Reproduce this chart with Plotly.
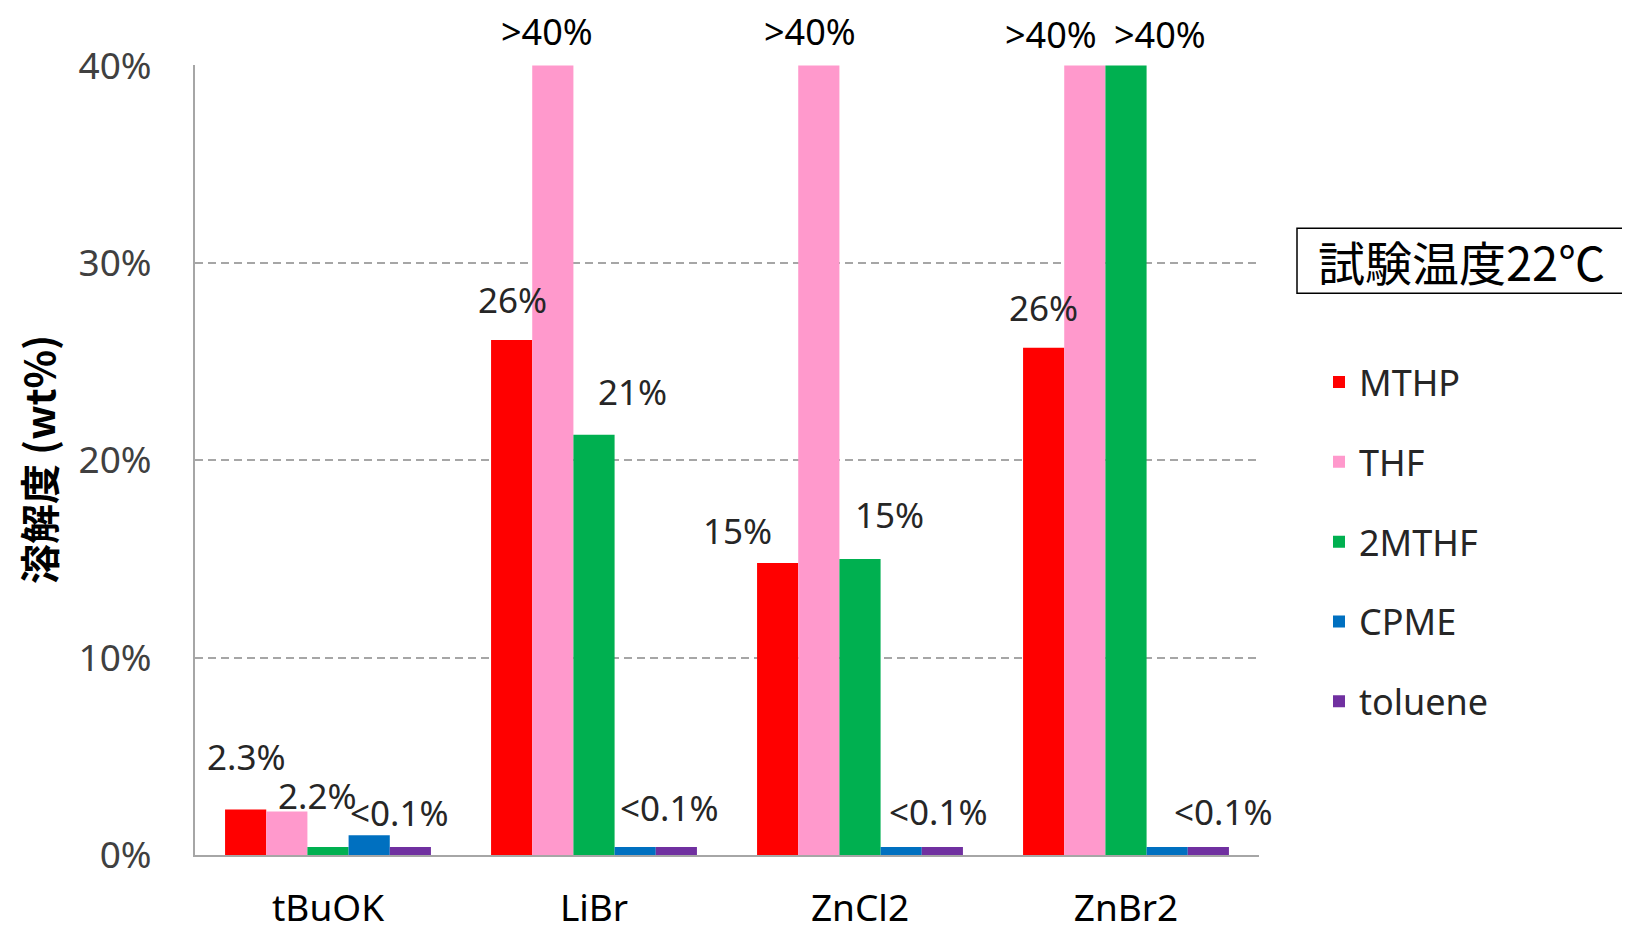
import plotly.graph_objects as go

categories = ["tBuOK", "LiBr", "ZnCl2", "ZnBr2"]
series_names = ["MTHP", "THF", "2MTHF", "CPME", "toluene"]
mthp = [2.3, 26.1, 14.8, 25.7]
thf = [2.2, 40.0, 40.0, 40.0]
mthf2 = [0.4, 21.3, 15.0, 40.0]
cpme = [1.0, 0.4, 0.4, 0.4]
toluene = [0.4, 0.4, 0.4, 0.4]
colors = ["#FF0000", "#FF99CC", "#00B050", "#0070C0", "#7030A0"]

y_tickvals = [0, 10, 20, 30, 40]
y_ticktext = ["0%", "10%", "20%", "30%", "40%"]

# data-label texts and their placement (category index, y value)
label_texts = ["26%", "21%", "15%", "15%", "26%",
               "2.3%", "2.2%", "<0.1%", "<0.1%", "<0.1%", "<0.1%"]
label_x = [0.693, 1.146, 1.541, 2.112, 2.691,
           -0.308, -0.039, 0.270, 1.283, 2.296, 3.367]
label_y = [28.17, 23.49, 16.45, 17.24, 27.75,
           4.99, 3.0, 2.155, 2.42, 2.21, 2.21]

# labels for bars that exceed the axis top
over_texts = [">40%", ">40%", ">40%", ">40%"]
over_x = [0.822, 1.811, 2.718, 3.129]
over_shift = [34, 34, 31, 31]

# page has an 8px body margin; work in target screen pixels
OFF = 8
W, H = 1630 - OFF, 933 - OFF
L, R, T, B = 195 - OFF, 1259 - OFF, 64.5 - OFF, 855.5 - OFF


def px_x(p):
    return (p - OFF - L) / (R - L)


def px_y(p):
    return (B - (p - OFF)) / (B - T)


fig = go.Figure()
for name, vals, col in zip(series_names, [mthp, thf, mthf2, cpme, toluene], colors):
    fig.add_trace(go.Bar(
        x=categories, y=vals, name=name, marker_color=col,
        marker_line_width=0, legendgroup=name,
    ))

annotations = []
for t, x, y in zip(label_texts, label_x, label_y):
    annotations.append(dict(
        x=x, y=y, xref="x", yref="y", text=t, showarrow=False,
        font=dict(family="Noto Sans", size=35, color="#262626"),
        xanchor="center", yanchor="middle",
    ))
for t, x, s in zip(over_texts, over_x, over_shift):
    annotations.append(dict(
        x=x, y=40, xref="x", yref="y", yshift=s, text=t, showarrow=False,
        font=dict(family="Noto Sans", size=36, color="#000000"),
        xanchor="center", yanchor="middle",
    ))

annotations.append(dict(
    x=px_x(38), y=px_y(460), xref="paper", yref="paper",
    text="<b>溶解度 (wt%)</b>", textangle=-90, showarrow=False,
    font=dict(family="Noto Sans CJK JP", size=40, color="#000000"),
    xanchor="center", yanchor="middle",
))
annotations.append(dict(
    x=px_x(1316), y=px_y(260), xref="paper", yref="paper",
    text="試験温度22℃", showarrow=False,
    font=dict(family="Noto Sans CJK JP", size=47, color="#000000"),
    xanchor="left", yanchor="middle",
))

fig.update_layout(
    width=W, height=H,
    margin=dict(l=L, r=W - R, t=T, b=H - B, pad=0, autoexpand=False),
    paper_bgcolor="white", plot_bgcolor="white",
    barmode="group", bargap=0.226, bargroupgap=0,
    font=dict(family="Noto Sans", color="#404040"),
    annotations=annotations,
    shapes=[dict(
        type="rect", xref="paper", yref="paper",
        x0=px_x(1297), x1=px_x(1629), y0=px_y(293), y1=px_y(228),
        line=dict(color="#000000", width=1.5), fillcolor="rgba(0,0,0,0)",
    )],
    legend=dict(
        x=px_x(1319), y=px_y(352), xanchor="left", yanchor="top",
        font=dict(family="Noto Sans", size=36, color="#262626"),
        tracegroupgap=30, bgcolor="rgba(0,0,0,0)", borderwidth=0,
    ),
    showlegend=True,
)

fig.update_yaxes(
    range=[0, 40.03], tickvals=y_tickvals, ticktext=y_ticktext,
    tickfont=dict(family="Noto Sans", size=37, color="#404040"),
    showgrid=True, gridcolor="#A6A6A6", gridwidth=1.5, griddash="8px,5px",
    showline=True, linecolor="#A6A6A6", linewidth=2,
    zeroline=False, ticks="", ticklabelstandoff=34, automargin=False,
)
fig.update_xaxes(
    range=[-0.5, 3.5],
    tickfont=dict(family="Noto Sans", size=37, color="#000000"),
    showline=True, linecolor="#A6A6A6", linewidth=2,
    ticks="", ticklabelstandoff=20, showgrid=False, automargin=False,
)

fig.write_html("out.html")
